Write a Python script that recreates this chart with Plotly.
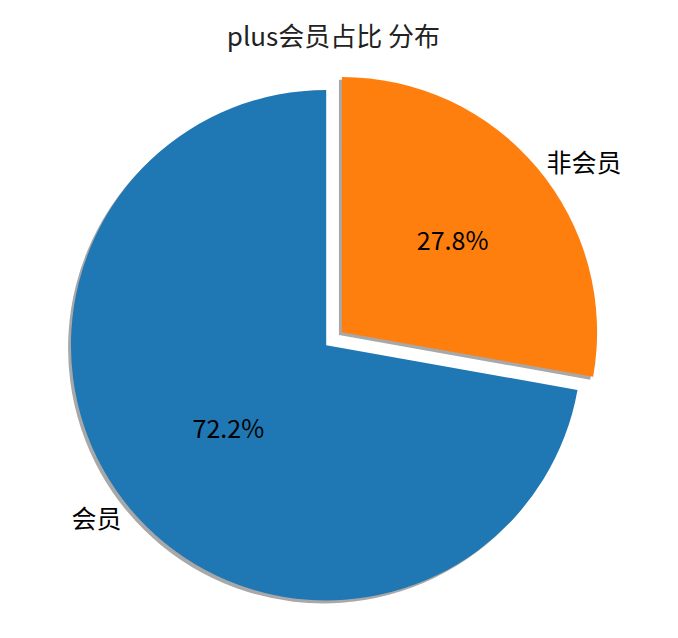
import plotly.graph_objects as go

labels = ["会员", "非会员"]
values = [72.2, 27.8]
colors = ["#1f77b4", "#ff7f0e"]
pull = [0, 0.08]

font = "Noto Sans CJK SC"

# 非会员 ends at 12 o'clock, going clockwise from the start of 会员
start = 360 * values[1] / sum(values)

# pie area in paper coords, shadow shifted a few px down-left
dom_x = [0.014, 0.884]
dom_y = [0.005, 0.9]
dx, dy = 3 / 678, 3 / 638

fig = go.Figure()

# shadow
fig.add_trace(go.Pie(
    labels=labels, values=values, sort=False, direction="clockwise",
    rotation=start, pull=pull, textinfo="none", hoverinfo="skip",
    marker=dict(colors=["rgba(110,110,110,0.6)"] * 2, line=dict(width=0)),
    domain=dict(x=[dom_x[0] - dx, dom_x[1] - dx], y=[dom_y[0] - dy, dom_y[1] - dy]),
    showlegend=False,
))

# main pie with percentages
fig.add_trace(go.Pie(
    labels=labels, values=values, sort=False, direction="clockwise",
    rotation=start, pull=pull, textinfo="percent", textposition="inside",
    insidetextorientation="horizontal", texttemplate="%{percent:.1%}",
    textfont=dict(family=font, size=25, color="black"),
    marker=dict(colors=colors, line=dict(width=0)),
    domain=dict(x=dom_x, y=dom_y), showlegend=False,
))

# transparent copy carrying the outside labels
fig.add_trace(go.Pie(
    labels=labels, values=values, sort=False, direction="clockwise",
    rotation=start, pull=pull, textinfo="label", textposition="outside",
    textfont=dict(family=font, size=25, color="black"),
    marker=dict(colors=["rgba(0,0,0,0)"] * 2, line=dict(width=0)),
    domain=dict(x=dom_x, y=dom_y), showlegend=False, hoverinfo="skip",
))

fig.update_layout(
    width=678, height=638,
    margin=dict(l=0, r=0, t=0, b=0),
    paper_bgcolor="white",
    title=dict(text="plus会员占比 分布", x=0.48, y=0.954, xanchor="center",
               yanchor="middle",
               font=dict(family=font, size=26, color="#222")),
)

fig.write_html("out.html")
